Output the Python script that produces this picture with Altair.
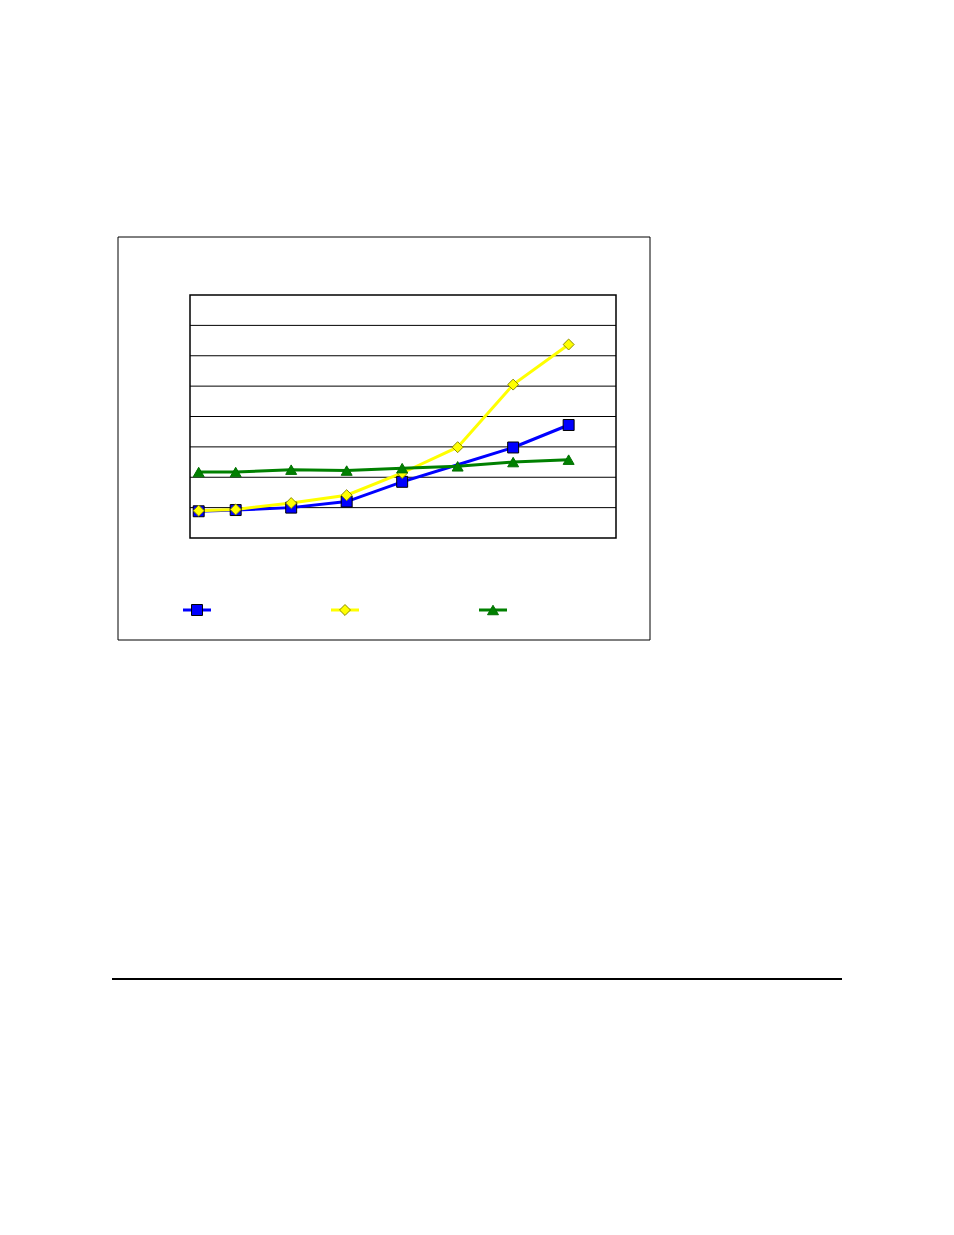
import altair as alt
import pandas as pd

# ---- data ----
x_pos = [0, 2, 5, 8, 11, 14, 17, 20]
series_names = ["Series 1", "Series 2", "Series 3"]
blue = [0.88, 0.92, 1.00, 1.20, 1.85, 2.41, 2.98, 3.72]
yellow = [0.90, 0.94, 1.15, 1.41, 2.14, 2.99, 5.05, 6.37]
green = [2.17, 2.17, 2.25, 2.22, 2.30, 2.36, 2.50, 2.58]
blue_marked = [True, True, True, True, True, False, True, True]
y_ticks = [1, 2, 3, 4, 5, 6, 7]

# ---- styles ----
line_colors = ["#0000FF", "#FFFF00", "#008000"]
fill_colors = ["#0000FF", "#FFFF00", "#008000"]
stroke_colors = ["#000000", "#8C8C00", "#007000"]
shapes = ["square", "diamond", "triangle-up"]

rows = []
for order, (name, vals) in enumerate(zip(series_names, [blue, yellow, green])):
    for i, (x, v) in enumerate(zip(x_pos, vals)):
        marked = blue_marked[i] if name == "Series 1" else True
        rows.append({"series": name, "order": order, "x": x, "value": v, "marked": marked})
df = pd.DataFrame(rows)
legend_df = pd.DataFrame({"series": series_names, "order": [0, 1, 2]})
grid_df = pd.DataFrame({"tick": y_ticks})

color_scale = alt.Scale(domain=series_names, range=line_colors)
fill_scale = alt.Scale(domain=series_names, range=fill_colors)
stroke_scale = alt.Scale(domain=series_names, range=stroke_colors)
shape_scale = alt.Scale(domain=series_names, range=shapes)

x_scale = alt.Scale(domain=[-0.47, 22.56], nice=False, zero=False)
y_scale = alt.Scale(domain=[0, 8], nice=False)

grid = alt.Chart(grid_df).mark_rule(stroke="black", strokeWidth=1).encode(
    y=alt.Y("tick:Q", scale=y_scale, axis=None),
    x=alt.value(0),
    x2=alt.value(426),
)

base = alt.Chart(df)

lines = base.mark_line(strokeWidth=3).encode(
    x=alt.X("x:Q", scale=x_scale, axis=None),
    y=alt.Y("value:Q", scale=y_scale, axis=None),
    color=alt.Color("series:N", scale=color_scale, legend=None),
    order=alt.Order("order:Q"),
    detail="series:N",
)

points = base.transform_filter("datum.marked").mark_point(
    filled=True, size=120, strokeWidth=1, opacity=1, fillOpacity=1, strokeOpacity=1
).encode(
    x=alt.X("x:Q", scale=x_scale, axis=None),
    y=alt.Y("value:Q", scale=y_scale, axis=None),
    fill=alt.Fill("series:N", scale=fill_scale, legend=None),
    stroke=alt.Stroke("series:N", scale=stroke_scale, legend=None),
    shape=alt.Shape("series:N", scale=shape_scale, legend=None),
    order=alt.Order("order:Q"),
)

main = alt.layer(lines, points)

leg_x = alt.X("series:N",
              scale=alt.Scale(type="point", domain=series_names, range=[7, 303], padding=0),
              axis=None)
leg_base = alt.Chart(legend_df)
leg_rule = leg_base.mark_rule(strokeWidth=3, xOffset=-14, x2Offset=14).encode(
    x=leg_x,
    x2="series:N",
    y=alt.value(315),
    color=alt.Color("series:N", scale=color_scale, legend=None),
)
leg_pts = leg_base.mark_point(filled=True, size=120, strokeWidth=1, opacity=1).encode(
    x=leg_x,
    y=alt.value(315),
    fill=alt.Fill("series:N", scale=fill_scale, legend=None),
    stroke=alt.Stroke("series:N", scale=stroke_scale, legend=None),
    shape=alt.Shape("series:N", scale=shape_scale, legend=None),
)
legend = alt.layer(leg_rule, leg_pts)

dummy = alt.Data(values=[{"k": 1}])
frame = alt.Chart(dummy).mark_rect(fill=None, fillOpacity=0, stroke="black", strokeWidth=1).encode(
    x=alt.value(-72), x2=alt.value(460), y=alt.value(-58), y2=alt.value(345)
)
separator = alt.Chart(dummy).mark_rule(stroke="black", strokeWidth=2).encode(
    x=alt.value(-78), x2=alt.value(652), y=alt.value(684)
)

chart = alt.layer(frame, grid, main, legend, separator).resolve_scale(
    x="independent"
).properties(
    width=426,
    height=243,
    autosize=alt.AutoSizeParams(type="none"),
    padding={"left": 182, "top": 287, "right": 240, "bottom": 460},
    background="white",
).configure_view(
    stroke="black", strokeWidth=1.5
)

chart.save("out.html", embed_options={"renderer": "svg", "actions": False})
